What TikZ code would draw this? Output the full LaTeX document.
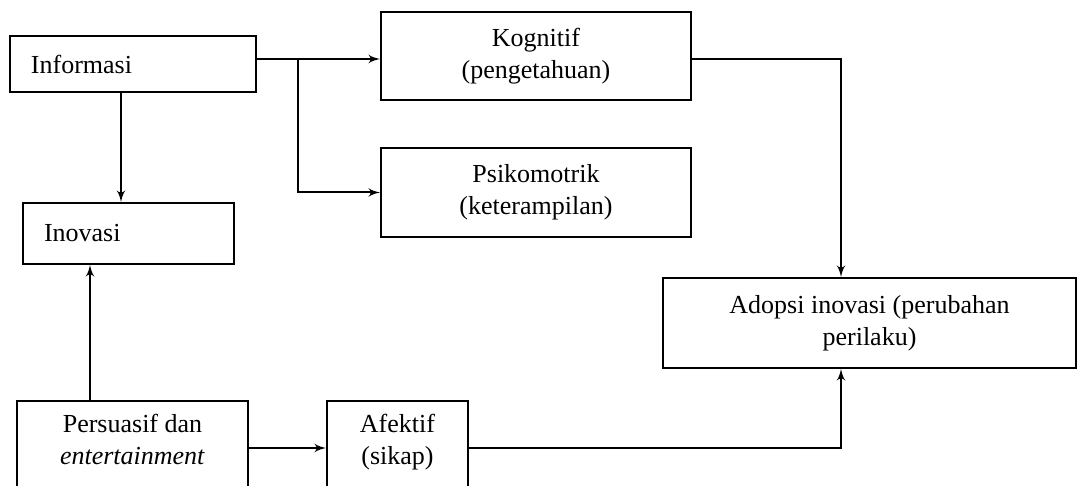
\documentclass[tikz,border=0pt]{standalone}
\usepackage{fontspec}
\setmainfont{Liberation Serif}
\usepackage{tikz}
\usetikzlibrary{positioning}
\usetikzlibrary{arrows}
\tikzset{edge/.style = {->,> = latex'}}

\begin{document}
\begin{tikzpicture}[x=0.5pt,y=-0.5pt,line width=1pt,main node/.style={rectangle,draw,align=center,inner sep=2pt,font=\fontsize{13}{16}\selectfont},left node/.style={main node,align=left,inner xsep=10.5pt}]
            \path[use as bounding box,clip] (0,0) rectangle (1077,486);

            \node[left node,text width=102pt,minimum height=28pt] (info) at (133,64) {Informasi};
            \node[left node,text width=84.5pt,minimum height=30.5pt] (inov) at (128.5,233.5) {Inovasi};
            \node[main node,minimum width=155pt,minimum height=44pt] (kog) at (536,56) {Kognitif\\(pengetahuan)};
            \node[main node,minimum width=155pt,minimum height=44.5pt] (psi) [below=23pt of kog] {Psikomotrik\\(keterampilan)};
            \node[main node,minimum width=206.5pt,minimum height=45pt] (adop) at (869.5,323) {Adopsi inovasi (perubahan\\perilaku)};
            \node[main node,minimum width=115.5pt,minimum height=47pt,text depth=9pt] (pers) at (132.5,448) {Persuasif dan\\\textit{entertainment}};
            \node[main node,minimum width=70.5pt,minimum height=47pt,text depth=9pt] (afek) [right=38.5pt of pers] {Afektif\\(sikap)};

            \coordinate (j) at (298,59);
            \coordinate (iv) at (121,0);
            \coordinate (pv) at (90,0);
            \coordinate (av) at (841,0);

            \draw (j -| info.east) -- (j);
            \draw[edge] (j) -- (j -| kog.west);
            \draw[edge] (j) |- (psi.west);
            \draw[edge] (iv |- info.south) -- (iv |- inov.north);
            \draw[edge] (pv |- pers.north) -- (pv |- inov.south);
            \draw[edge] (pers.east) -- (afek.west);
            \draw[edge] (j -| kog.east) -| (av |- adop.north);
            \draw[edge] (afek.east) -| (av |- adop.south);

        \end{tikzpicture}
\end{document}
